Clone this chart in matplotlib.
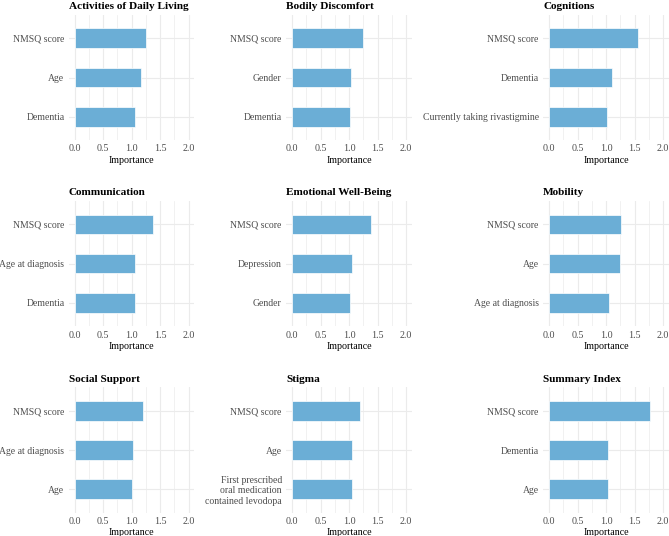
import matplotlib
matplotlib.use("Agg")
import matplotlib.pyplot as plt
import numpy as np

plt.rcParams['font.family'] = ['Liberation Serif', 'DejaVu Serif']

titles = ["Activities of Daily Living", "Bodily Discomfort", "Cognitions",
          "Communication", "Emotional Well-Being", "Mobility",
          "Social Support", "Stigma", "Summary Index"]

features_adl = ["NMSQ score", "Age", "Dementia"]
values_adl = [1.25, 1.16, 1.07]
features_bd = ["NMSQ score", "Gender", "Dementia"]
values_bd = [1.25, 1.04, 1.01]
features_cog = ["NMSQ score", "Dementia", "Currently taking rivastigmine"]
values_cog = [1.57, 1.11, 1.01]
features_com = ["NMSQ score", "Age at diagnosis", "Dementia"]
values_com = [1.38, 1.06, 1.06]
features_ewb = ["NMSQ score", "Depression", "Gender"]
values_ewb = [1.39, 1.06, 1.02]
features_mob = ["NMSQ score", "Age", "Age at diagnosis"]
values_mob = [1.26, 1.24, 1.055]
features_ss = ["NMSQ score", "Age at diagnosis", "Age"]
values_ss = [1.20, 1.02, 1.00]
features_stg = ["NMSQ score", "Age", "First prescribed\noral medication\ncontained levodopa"]
values_stg = [1.20, 1.06, 1.05]
features_si = ["NMSQ score", "Dementia", "Age"]
values_si = [1.77, 1.04, 1.04]

features = [features_adl, features_bd, features_cog, features_com, features_ewb,
            features_mob, features_ss, features_stg, features_si]
values = [values_adl, values_bd, values_cog, values_com, values_ewb,
          values_mob, values_ss, values_stg, values_si]

x_ticks = [0.0, 0.5, 1.0, 1.5, 2.0]
x_tick_labels = ["0.0", "0.5", "1.0", "1.5", "2.0"]

W, H = 669, 536
fig = plt.figure(figsize=(W / 100, H / 100), dpi=100)

col_left = [68.8, 286.3, 543.3]
panel_w = 125.4
row_top = [14.7, 200.8, 387.2]
panel_h = 125.6

bar_color = "#6BAED6"
grid_color = "#EBEBEB"

for i in range(9):
    r, c = divmod(i, 3)
    left = col_left[c] / W
    bottom = 1 - (row_top[r] + panel_h) / H
    ax = fig.add_axes([left, bottom, panel_w / W, panel_h / H])
    feats = features[i]
    vals = values[i]
    ypos = np.arange(len(feats))[::-1] + 1
    ax.barh(ypos, vals, height=0.5, color=bar_color, edgecolor="white",
            linewidth=0.5, zorder=3)
    ax.set_xlim(-0.1, 2.1)
    ax.set_ylim(0.4, len(feats) + 0.6)
    ax.set_yticks(ypos)
    ax.set_yticklabels(feats, fontsize=7.0, color="#4D4D4D", linespacing=1.2)
    ax.set_xticks(x_ticks)
    ax.set_xticklabels(x_tick_labels, fontsize=7.2, color="#4D4D4D")
    ax.set_xticks(np.arange(0.25, 2.0, 0.5), minor=True)
    ax.grid(True, which="major", color=grid_color, linewidth=0.8, zorder=0)
    ax.grid(True, which="minor", axis="x", color=grid_color, linewidth=0.5, zorder=0)
    ax.tick_params(axis="y", which="both", length=0, pad=3.2)
    ax.tick_params(axis="x", which="both", length=0, pad=3)
    for s in ax.spines.values():
        s.set_visible(False)
    ax.set_xlabel("Importance", fontsize=7.2, labelpad=1.5)
    ax.set_title(titles[i], loc="left", fontsize=8.1, fontweight="bold", pad=4)

fig.savefig("out.png", dpi=100)
